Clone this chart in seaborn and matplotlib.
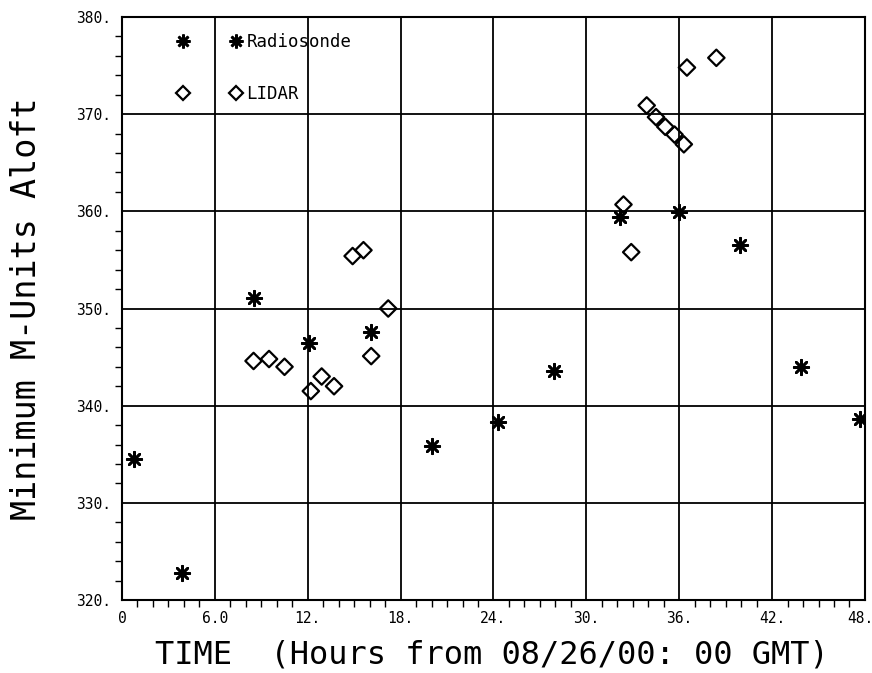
import matplotlib
matplotlib.use("Agg")
import matplotlib.pyplot as plt
import matplotlib.transforms as mtransforms
import seaborn as sns
import pandas as pd
from matplotlib.lines import Line2D
from matplotlib.ticker import FixedLocator, MultipleLocator

# ---- data ----
radiosonde_hours = [0.8, 3.9, 8.5, 12.1, 16.1, 20.0, 24.3, 27.9, 32.2, 36.0, 39.9, 43.9, 47.7]
radiosonde_m = [334.5, 322.8, 351.1, 346.5, 347.6, 335.8, 338.3, 343.6, 359.4, 359.9, 356.5, 344.0, 338.6]

lidar_hours = [8.5, 9.5, 10.5, 12.2, 12.9, 13.7, 14.9, 15.6, 16.1, 17.2,
               32.4, 32.9, 33.9, 34.5, 35.1, 35.7, 36.3, 36.5, 38.4]
lidar_m = [344.6, 344.8, 344.0, 341.5, 343.0, 342.0, 355.4, 356.0, 345.1, 350.0,
           360.7, 355.8, 370.9, 369.7, 368.7, 367.9, 366.9, 374.8, 375.8]

x_ticks = [0, 6, 12, 18, 24, 30, 36, 42, 48]
x_tick_labels = ["0", "6.0", "12.", "18.", "24.", "30.", "36.", "42.", "48."]
y_ticks = [320, 330, 340, 350, 360, 370, 380]
y_tick_labels = ["320.", "330.", "340.", "350.", "360.", "370.", "380."]
series_names = ["Radiosonde", "LIDAR"]

x_label = "TIME  (Hours from 08/26/00: 00 GMT)"
y_label = "Minimum M-Units Aloft"

# ---- plot ----
sns.set_style("white")
plt.rcParams["font.family"] = ["DejaVu Sans Mono", "DejaVu Sans"]
plt.rcParams["text.color"] = "black"
plt.rcParams["axes.labelcolor"] = "black"
plt.rcParams["xtick.color"] = "black"
plt.rcParams["ytick.color"] = "black"

fig = plt.figure(figsize=(8.72, 6.73), dpi=100)
ax = fig.add_axes([0.1399, 0.1085, 0.8520, 0.8662])

asterisk = (8, 2, 0)
df_r = pd.DataFrame({"hours": radiosonde_hours, "m": radiosonde_m})
df_l = pd.DataFrame({"hours": lidar_hours, "m": lidar_m})

sns.scatterplot(data=df_r, x="hours", y="m", marker=asterisk, s=110,
                color="black", linewidths=1.9, ax=ax, legend=False, zorder=3)
sns.scatterplot(data=df_l, x="hours", y="m", marker="D", s=70,
                facecolors="none", edgecolor="black", linewidths=1.6,
                ax=ax, legend=False, zorder=3)

ax.set_xlim(0, 48)
ax.set_ylim(320, 380)
ax.xaxis.set_major_locator(FixedLocator(x_ticks))
ax.yaxis.set_major_locator(FixedLocator(y_ticks))
ax.set_xticklabels(x_tick_labels)
ax.set_yticklabels(y_tick_labels)
ax.xaxis.set_minor_locator(MultipleLocator(1))
ax.yaxis.set_minor_locator(MultipleLocator(2))

ax.grid(True, which="major", color="black", linewidth=1.3)
for s in ax.spines.values():
    s.set_color("black")
    s.set_linewidth(1.5)

ax.tick_params(which="major", direction="inout", length=10, width=1.3,
               colors="black", labelsize=10.5, pad=3)
ax.tick_params(which="minor", direction="out", length=5, width=1.0,
               colors="black", bottom=True, left=True)
ax.tick_params(top=False, right=False, which="both")

# nudge the last x tick label slightly left so its dot stays on the canvas
last = ax.get_xticklabels()[-1]
last.set_transform(last.get_transform() +
                   mtransforms.ScaledTranslation(-5 / 100, 0, fig.dpi_scale_trans))

ax.set_xlabel(x_label, fontsize=23, color="black")
ax.set_ylabel(y_label, fontsize=24, color="black")
ax.xaxis.set_label_coords(0.498, -0.068)
ax.yaxis.set_label_coords(-0.106, 0.5)

handles = [
    Line2D([], [], linestyle="none", marker=asterisk, markersize=10,
           markeredgewidth=1.9, color="black"),
    Line2D([], [], linestyle="none", marker="D", markersize=7.5,
           markerfacecolor="none", markeredgecolor="black", markeredgewidth=1.6),
]
leg = ax.legend(handles, series_names, numpoints=2, frameon=False, fontsize=12.5,
                handlelength=3.64, handletextpad=0.3, labelspacing=2.0,
                loc="upper left", bbox_to_anchor=(0.066, 0.985), borderaxespad=0)
for t in leg.get_texts():
    t.set_color("black")

fig.savefig("out.png", dpi=100)
